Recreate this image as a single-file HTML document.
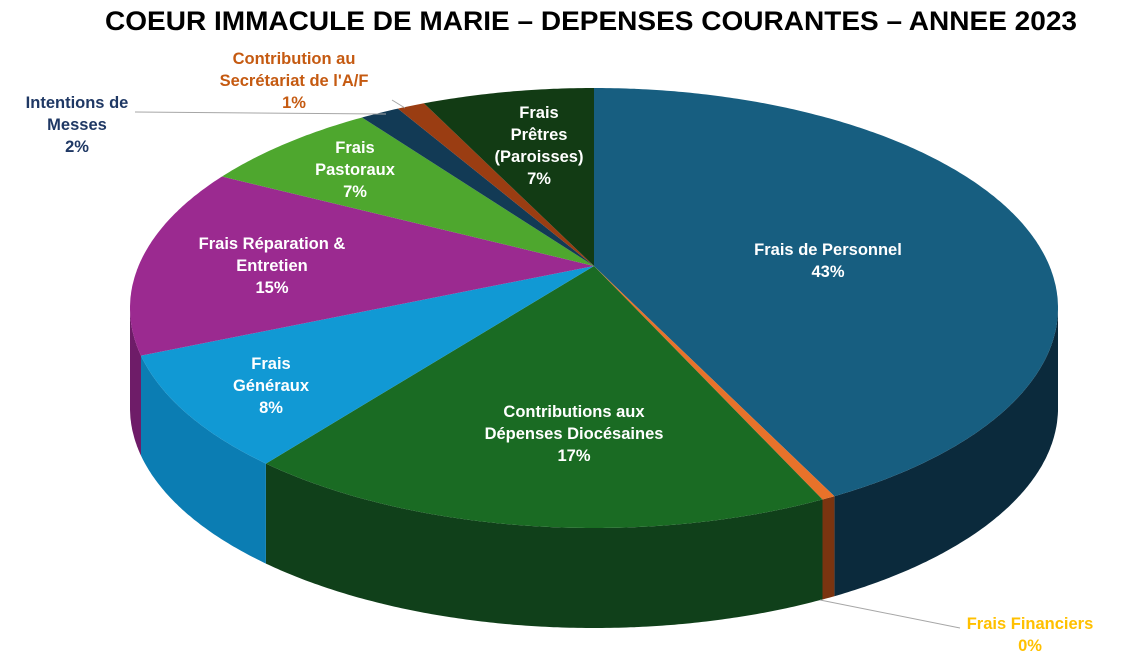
<!DOCTYPE html>
<html><head><meta charset="utf-8"><style>
html,body{margin:0;padding:0;background:#fff;}
svg{display:block;font-family:"Liberation Sans",Arial,sans-serif;font-weight:bold;}
</style></head><body>
<svg id="s" width="1146" height="666" viewBox="0 0 1146 666">
<text x="591" y="30" text-anchor="middle" font-size="27" fill="#000" textLength="972" lengthAdjust="spacingAndGlyphs">COEUR IMMACULE DE MARIE – DEPENSES COURANTES – ANNEE 2023</text>
<g id="pie"></g>
<g font-size="16.5" text-anchor="middle" fill="#fff">
<text x="828" y="255">Frais de Personnel</text><text x="828" y="277">43%</text>
<text x="574" y="417">Contributions aux</text><text x="574" y="439">Dépenses Diocésaines</text><text x="574" y="461">17%</text>
<text x="271" y="369">Frais</text><text x="271" y="391">Généraux</text><text x="271" y="413">8%</text>
<text x="272" y="249">Frais Réparation &amp;</text><text x="272" y="271">Entretien</text><text x="272" y="293">15%</text>
<text x="355" y="153">Frais</text><text x="355" y="175">Pastoraux</text><text x="355" y="197">7%</text>
<text x="539" y="118">Frais</text><text x="539" y="140">Prêtres</text><text x="539" y="162">(Paroisses)</text><text x="539" y="184">7%</text>
</g>
<g font-size="16.5" text-anchor="middle">
<text x="77" y="108" fill="#1f3864">Intentions de</text><text x="77" y="130" fill="#1f3864">Messes</text><text x="77" y="152" fill="#1f3864">2%</text>
<text x="294" y="64" fill="#c55a11">Contribution au</text><text x="294" y="86" fill="#c55a11">Secrétariat de l'A/F</text><text x="294" y="108" fill="#c55a11">1%</text>
<text x="1030" y="629" fill="#ffc000">Frais Financiers</text><text x="1030" y="651" fill="#ffc000">0%</text>
</g>
<g stroke="#a6a6a6" fill="none" stroke-width="1">
<polyline points="135,112 386,114"/>
<polyline points="392,100 405,108"/>
<polyline points="820,600 960,628"/>
</g>
</svg>
<script>
var cx=594,cy=308,rx=464,ry=220,ax=594,ay=266,D=100;
var sl=[[-90,58.8,"#175e80","#0b2a3c"],[58.8,60.5,"#e8722a","#7a3410"],[60.5,135,"#1a6b23","#10401a"],
[135,167.5,"#1199d4","#0b7db3"],[167.5,216.7,"#9b2a90","#6e1c68"],[216.7,240,"#4ea72e","#3a7d22"],
[240,245,"#123a55","#0b2638"],[245,248.5,"#9a3d12","#6b2a0c"],[248.5,270,"#123b14","#0c2a0e"]];
function P(t,dy){var r=t*Math.PI/180;return [(cx+rx*Math.cos(r)).toFixed(1),(cy+ry*Math.sin(r)+(dy||0)).toFixed(1)];}
var g=document.getElementById('pie'),h='';
sl.forEach(function(s){var a=Math.max(s[0],0),b=Math.min(s[1],180);
 if(b>a){var pts=[];for(var t=a;t<=b;t+=0.5)pts.push(P(t).join(','));pts.push(P(b).join(','));
 for(var t=b;t>=a;t-=0.5)pts.push(P(t,D).join(','));pts.push(P(a,D).join(','));
 h+='<polygon points="'+pts.join(' ')+'" fill="'+s[3]+'"/>';}});
sl.forEach(function(s){var pts=[ax+','+ay];for(var t=s[0];t<=s[1];t+=0.5)pts.push(P(t).join(','));pts.push(P(s[1]).join(','));
 h+='<polygon points="'+pts.join(' ')+'" fill="'+s[2]+'"/>';});
g.innerHTML=h;
</script>
</body></html>
